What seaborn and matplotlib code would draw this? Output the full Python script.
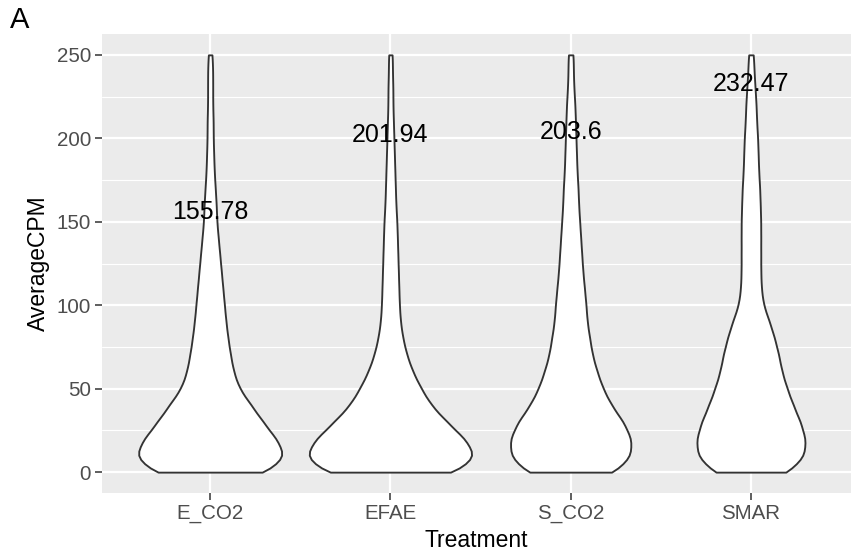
import numpy as np
import pandas as pd
import matplotlib
matplotlib.use("Agg")
import matplotlib.pyplot as plt
import seaborn as sns

# Treatment groups and the CPM levels the per-group abundance counts refer to
TREATMENTS = ["E_CO2", "EFAE", "S_CO2", "SMAR"]
CPM_LEVELS = [0, 10, 20, 30, 40, 50, 60, 70, 80, 90, 100, 110, 120,
              130, 140, 150, 160, 170, 180, 190, 200, 210, 220, 230, 240, 250]

# Number of genes observed at each CPM level, per treatment
COUNTS_E_CO2 = [116, 149, 130, 104, 81, 57, 46, 40, 35, 31, 28, 25, 22,
                19, 16, 13, 12, 10, 8, 7, 6, 6, 5, 5, 5, 4]
COUNTS_EFAE = [138, 173, 150, 114, 82, 62, 45, 33, 25, 20, 18, 17, 16,
               15, 14, 13, 11, 10, 9, 8, 7, 6, 5, 5, 4, 4]
COUNTS_S_CO2 = [87, 115, 115, 100, 77, 61, 50, 41, 36, 31, 29, 26, 23,
                21, 19, 17, 15, 14, 12, 11, 10, 9, 8, 6, 5, 5]
COUNTS_SMAR = [75, 105, 106, 96, 82, 70, 60, 54, 46, 36, 24, 20, 19,
               19, 19, 19, 18, 17, 15, 14, 13, 11, 10, 8, 6, 5]

# Summary value printed above each violin
LABEL_VALUES = [155.78, 201.94, 203.6, 232.47]

counts_by_group = [COUNTS_E_CO2, COUNTS_EFAE, COUNTS_S_CO2, COUNTS_SMAR]
frames = []
for name, counts in zip(TREATMENTS, counts_by_group):
    vals = np.repeat(np.array(CPM_LEVELS, dtype=float), counts)
    frames.append(pd.DataFrame({"Treatment": name, "AverageCPM": vals}))
df = pd.concat(frames, ignore_index=True)

sns.set_theme(style="white")
plt.rcParams["font.family"] = ["Liberation Sans", "DejaVu Sans"]

fig = plt.figure(figsize=(8.51, 5.58), dpi=100)
ax = fig.add_axes([102 / 851, 65 / 558, 749 / 851, 459 / 558])
ax.set_facecolor("#EBEBEB")

KERNEL_BW = 6.0  # kernel bandwidth in CPM units

sns.violinplot(
    data=df, x="Treatment", y="AverageCPM", order=TREATMENTS,
    color="white", saturation=1, linecolor="#333333", linewidth=1.35,
    inner=None, cut=0, width=0.9, density_norm="area",
    bw_method=lambda k: KERNEL_BW / k.dataset.std(ddof=1),
    ax=ax,
)
for coll in ax.collections:
    coll.set_facecolor("white")
    coll.set_zorder(3)

for i, v in enumerate(LABEL_VALUES):
    ax.text(i, v, str(v), ha="center", va="center", fontsize=18,
            color="black", zorder=5)

ax.set_xlim(-0.6, 3.555)
ax.set_ylim(-12.5, 262.5)
ax.set_yticks([0, 50, 100, 150, 200, 250])
ax.set_yticks([25, 75, 125, 175, 225], minor=True)
ax.grid(which="major", color="white", linewidth=1.6)
ax.grid(which="minor", axis="y", color="white", linewidth=0.8)
ax.set_axisbelow(True)
for s in ax.spines.values():
    s.set_visible(False)

ax.tick_params(axis="both", which="major", length=5, width=1.1,
               color="#333333", labelsize=14.8, labelcolor="#4D4D4D", pad=3,
               left=True, bottom=True)
ax.tick_params(axis="both", which="minor", length=0)

ax.set_xlabel("Treatment", fontsize=16.5, color="black", labelpad=4)
ax.set_ylabel("AverageCPM", fontsize=16.5, color="black", labelpad=5)

fig.text(10 / 851, 1 - 28 / 558, "A", fontsize=21, color="black",
         ha="left", va="baseline")

fig.savefig("out.png", dpi=100, facecolor="white")
